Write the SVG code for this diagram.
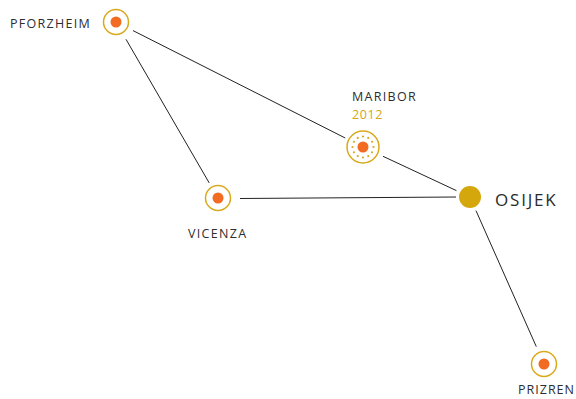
<svg xmlns="http://www.w3.org/2000/svg" width="576" height="399" viewBox="0 0 576 399">
<style>
.ring{fill:#fff;stroke:#d9a91c;stroke-width:1.5}
.dot{fill:#f26b22}
.lbl{font-family:"Open Sans","Liberation Sans",sans-serif;font-size:12.5px;fill:#2e2e2e;letter-spacing:1.3px}
.yr{font-family:"Open Sans","Liberation Sans",sans-serif;font-size:12.5px;fill:#d4a514;letter-spacing:0.6px}
.big{font-family:"Open Sans","Liberation Sans",sans-serif;font-size:17px;fill:#2a2a2a;letter-spacing:1.8px}
.edge{stroke:#222;stroke-width:1;fill:none}
</style>
<defs>
<circle id="sd" r="1.1" fill="#d9a91c"/>
</defs>
<g id="connectors">
<line class="edge" x1="133" y1="30.6" x2="345.2" y2="138"/>
<line class="edge" x1="126" y1="39.3" x2="209.2" y2="182.9"/>
<line class="edge" x1="240" y1="198.5" x2="456" y2="197"/>
<line class="edge" x1="383" y1="156.3" x2="456.4" y2="190.6"/>
<line class="edge" x1="476" y1="210.7" x2="536.3" y2="346.6"/>
</g>
<g id="pforzheim">
<circle class="ring" cx="116" cy="22" r="12.5"/>
<circle class="dot" cx="116" cy="22" r="5.5"/>
<text class="lbl" x="10" y="28">PFORZHEIM</text>
</g>
<g id="maribor">
<circle class="ring" cx="363" cy="147" r="16"/>
<g transform="translate(363 147)">
<use href="#sd" x="10.5" y="0"/><use href="#sd" x="9.09" y="5.25"/><use href="#sd" x="5.25" y="9.09"/>
<use href="#sd" x="0" y="10.5"/><use href="#sd" x="-5.25" y="9.09"/><use href="#sd" x="-9.09" y="5.25"/>
<use href="#sd" x="-10.5" y="0"/><use href="#sd" x="-9.09" y="-5.25"/><use href="#sd" x="-5.25" y="-9.09"/>
<use href="#sd" x="0" y="-10.5"/><use href="#sd" x="5.25" y="-9.09"/><use href="#sd" x="9.09" y="-5.25"/>
</g>
<circle class="dot" cx="363" cy="147" r="5.5"/>
<text class="lbl" x="352" y="101">MARIBOR</text>
<text class="yr" x="352" y="119">2012</text>
</g>
<g id="vicenza">
<circle class="ring" cx="218" cy="198" r="12.5"/>
<circle class="dot" cx="218" cy="198" r="5.5"/>
<text class="lbl" x="188" y="238">VICENZA</text>
</g>
<g id="osijek">
<circle cx="470" cy="197" r="11" fill="#d4a80c"/>
<text class="big" x="495" y="206">OSIJEK</text>
</g>
<g id="prizren">
<circle class="ring" cx="544" cy="364" r="12.5"/>
<circle class="dot" cx="544" cy="364" r="5.5"/>
<text class="lbl" x="518" y="394" style="letter-spacing:1px">PRIZREN</text>
</g>
</svg>
